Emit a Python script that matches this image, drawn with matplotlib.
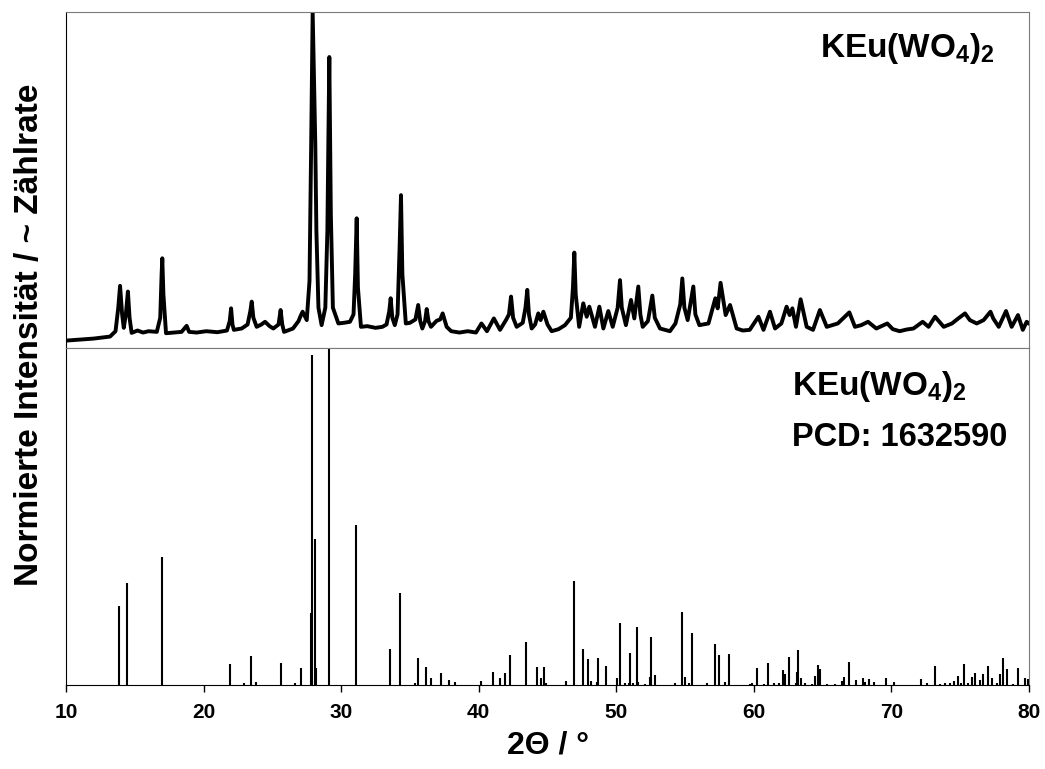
import numpy as np
from matplotlib import pyplot as plt

plt.rcParams['font.family'] = ['Liberation Sans', 'DejaVu Sans']
plt.rcParams['font.weight'] = 'bold'
plt.rcParams['mathtext.fontset'] = 'custom'
plt.rcParams['mathtext.bf'] = 'Liberation Sans:bold'
plt.rcParams['mathtext.rm'] = 'Liberation Sans:bold'
plt.rcParams['mathtext.default'] = 'bf'

meas_2theta = [10.0, 11.0, 12.0, 13.2, 13.6, 13.8, 13.93, 14.08, 14.2, 14.35, 14.5, 14.62, 14.77,
               15.2, 15.6, 16.0, 16.6, 16.85, 16.95, 17.0, 17.08, 17.27, 17.8, 18.4, 18.77, 18.95,
               19.5, 20.2, 21.0, 21.7, 21.9, 22.0, 22.1, 22.2, 22.77, 23.2, 23.4, 23.5, 23.62, 23.86,
               24.2, 24.47, 24.8, 25.07, 25.45, 25.6, 25.72, 25.85, 26.5, 26.9, 27.05, 27.2, 27.5,
               27.7, 27.82, 27.93, 28.03, 28.12, 28.2, 28.35, 28.58, 28.85, 29.0, 29.14, 29.25, 29.4,
               29.8, 30.2, 30.64, 30.9, 31.02, 31.13, 31.22, 31.44, 31.9, 32.5, 33.0, 33.3, 33.5,
               33.6, 33.72, 33.9, 34.1, 34.25, 34.35, 34.45, 34.7, 35.0, 35.4, 35.6, 35.75, 35.9,
               36.1, 36.22, 36.35, 36.53, 36.94, 37.2, 37.38, 37.67, 38.0, 38.6, 39.2, 39.8, 40.2,
               40.6, 41.1, 41.55, 41.98, 42.2, 42.35, 42.5, 42.76, 43.2, 43.4, 43.53, 43.65, 43.85,
               44.1, 44.33, 44.5, 44.7, 45.0, 45.3, 45.8, 46.27, 46.7, 46.85, 46.95, 47.05, 47.3,
               47.6, 47.85, 48.04, 48.45, 48.77, 49.06, 49.42, 49.74, 50.1, 50.27, 50.4, 50.7,
               51.07, 51.31, 51.6, 51.75, 51.92, 52.3, 52.62, 52.8, 53.18, 53.9, 54.3, 54.65, 54.8,
               54.95, 55.19, 55.6, 55.75, 56.04, 56.7, 57.2, 57.37, 57.58, 57.95, 58.27, 58.75,
               59.2, 59.7, 60.33, 60.7, 61.17, 61.54, 62.0, 62.38, 62.6, 62.8, 63.06, 63.4, 63.84,
               64.3, 64.8, 65.3, 66.1, 66.94, 67.35, 67.8, 68.3, 68.9, 69.7, 70.1, 70.6, 71.1, 71.6,
               72.27, 72.7, 73.17, 73.8, 74.4, 74.86, 75.35, 75.7, 76.2, 76.7, 77.2, 77.4, 77.8,
               78.33, 78.74, 79.2, 79.55, 79.83, 80.0]
meas_int = [2.2, 2.5, 2.8, 3.4, 5, 12, 18.5, 10, 6, 10, 16.8, 9, 4.5,
            5.2, 4.6, 5.0, 4.8, 9, 22, 26.7, 16, 4.4, 4.6, 4.8, 6.6, 4.8,
            4.6, 5.0, 4.7, 5.2, 8, 11.8, 7, 5.4, 5.8, 7, 11, 13.8, 9, 6.3,
            7, 7.8, 6.5, 5.8, 7, 11.3, 7, 4.8, 5.8, 8, 9.5, 10.8, 8.3,
            20, 60, 100, 80, 61, 35, 12, 6.8, 12, 35, 86.6, 40, 12,
            7.3, 7.5, 7.8, 10, 22, 38.6, 18, 6.3, 6.5, 6.0, 6.3, 7, 11,
            14.8, 9, 6.8, 10, 30, 45.5, 22, 7.3, 7.5, 8.5, 12.8, 8, 5.8,
            8, 11.6, 8, 6.3, 8.1, 8.5, 10.3, 6.3, 5.0, 4.6, 5.0, 4.6, 7.3,
            5.0, 8.8, 5.4, 8.3, 10, 15.3, 9, 6.3, 7.5, 12, 17.3, 10, 5.8,
            7, 10.3, 8.3, 10.8, 7, 5.0, 5.6, 6.8, 9, 18, 28.4, 16, 6.3,
            13.3, 9.3, 12.3, 6.3, 12.3, 5.8, 11.0, 6.3, 12, 20.2, 12, 6.8,
            14.3, 8.8, 18.3, 10, 6.3, 8, 15.6, 9, 5.8, 5.0, 7.3, 13, 20.7,
            12, 8.3, 18.3, 10, 6.8, 7.3, 14.8, 11.8, 19.4, 9.8, 12.8, 5.8,
            5.2, 5.4, 9.3, 5.4, 10.8, 5.8, 7.3, 12.3, 9.8, 11.8, 6.3, 14.5, 6.3,
            5.4, 11.3, 6.3, 7.3, 10.6, 6.3, 6.8, 7.8, 5.8, 7.3, 5.6, 5.0, 5.5, 5.8,
            7.8, 6.3, 9.3, 6.3, 7.3, 8.8, 10.3, 8.3, 7.3, 8.3, 10.8, 8.8, 6.3,
            11.0, 6.3, 9.8, 5.4, 7.8, 7.3]

# reference reflections PCD 1632590
ref_2theta = [13.85, 14.46, 16.98, 21.94, 22.96, 23.47, 23.81, 25.6, 26.62, 27.08, 27.78, 27.88,
              28.08, 28.17, 29.09, 31.08, 33.58, 34.25, 35.37, 35.56, 36.14, 36.53, 37.23, 37.82,
              38.3, 40.17, 41.04, 41.55, 41.93, 42.3, 43.44, 44.21, 44.5, 44.72, 44.9, 46.32,
              46.93, 47.56, 47.97, 48.14, 48.57, 48.7, 49.28, 50.05, 50.25, 50.63, 50.9, 51.02,
              51.2, 51.48, 51.6, 52.1, 52.43, 52.55, 52.82, 54.3, 54.75, 54.99, 55.3, 55.53,
              56.6, 57.16, 57.49, 57.9, 58.17, 59.72, 59.9, 60.25, 60.76, 61.05, 61.47, 61.8,
              62.14, 62.26, 62.55, 63.03, 63.17, 63.24, 63.4, 63.7, 64.2, 64.42, 64.69, 64.81,
              65.3, 65.9, 66.38, 66.57, 66.89, 67.4, 67.96, 68.1, 68.35, 68.73, 69.58, 70.21,
              72.15, 72.6, 73.17, 73.5, 73.9, 74.26, 74.56, 74.81, 75.06, 75.29, 75.6, 75.83,
              76.05, 76.44, 76.62, 77.05, 77.3, 77.64, 77.9, 78.11, 78.4, 78.87, 79.2, 79.69, 79.93]
ref_int = [23.5, 30.2, 37.9, 6.2, 0.5, 8.6, 1.0, 6.4, 0.7, 4.9, 21.3, 97.9,
           43.2, 5.1, 102.0, 47.5, 10.6, 27.4, 0.5, 7.9, 5.4, 2.2, 3.5, 1.5,
           0.8, 1.2, 3.8, 2.1, 3.7, 8.9, 12.9, 5.2, 2.2, 5.4, 0.5, 1.2,
           30.9, 10.6, 7.7, 1.2, 1.0, 8.1, 5.7, 2.2, 18.5, 0.7, 0.5, 9.6,
           0.5, 17.1, 1.0, 0.3, 2.4, 14.2, 3.1, 0.5, 21.6, 2.3, 0.7, 15.5,
           0.5, 12.1, 8.9, 0.8, 9.2, 0.3, 0.5, 5.0, 0.3, 6.4, 0.5, 0.5,
           4.5, 3.3, 8.2, 0.5, 4.0, 10.4, 2.2, 0.5, 0.3, 2.7, 5.9, 4.7,
           0.2, 0.2, 1.2, 2.3, 6.8, 1.5, 2.0, 1.0, 1.9, 1.0, 2.2, 1.0,
           1.8, 0.5, 5.6, 0.3, 0.7, 0.7, 1.2, 2.7, 0.7, 6.2, 0.7, 2.3,
           3.5, 1.5, 3.2, 5.6, 2.0, 0.5, 3.2, 7.9, 4.7, 0.3, 5.1, 2.2, 1.7]

fig = plt.figure(figsize=(10.45, 7.69), dpi=100)
left, right = 66 / 1045, 1029 / 1045
ax_top = fig.add_axes([left, 1 - 348 / 769, right - left, 336 / 769])
ax_bot = fig.add_axes([left, 1 - 685 / 769, right - left, 337 / 769], sharex=ax_top)

grey = '#7a7a7a'
ax_top.plot(meas_2theta, meas_int, color='black', lw=2.8, solid_joinstyle='round')
ax_top.set_ylim(0, 100)
ax_top.set_xlim(10, 80)
ax_top.tick_params(left=False, labelleft=False, bottom=False, labelbottom=False)
for s in ['top', 'right', 'bottom']:
    ax_top.spines[s].set_color(grey)
ax_top.spines['left'].set_color('black')
ax_top.text(0.965, 0.866, r'KEu(WO$_4$)$_2$', transform=ax_top.transAxes,
            ha='right', va='baseline', fontsize=24, fontweight='bold')

ax_bot.vlines(ref_2theta, 0, ref_int, color='black', lw=1.5)
ax_bot.set_ylim(0, 100)
ax_bot.set_xticks(np.arange(10, 81, 10))
ax_bot.tick_params(axis='x', direction='out', length=5, width=1, labelsize=15, pad=8)
ax_bot.tick_params(left=False, labelleft=False)
for lab in ax_bot.get_xticklabels():
    lab.set_fontweight('bold')
ax_bot.spines['top'].set_color(grey)
ax_bot.spines['right'].set_color(grey)
ax_bot.text(0.754, 0.8605, r'KEu(WO$_4$)$_2$', transform=ax_bot.transAxes,
            ha='left', va='baseline', fontsize=24, fontweight='bold')
ax_bot.text(0.754, 0.709, 'PCD: 1632590', transform=ax_bot.transAxes,
            ha='left', va='baseline', fontsize=23.5, fontweight='bold')

fig.text(548 / 1045, 1 - 746 / 769, '2\u0398 / \u00b0', ha='center', va='center',
         fontsize=23, fontweight='bold')
fig.text(0.028, 1 - 335 / 769, 'Normierte Intensit\u00e4t / ~ Z\u00e4hlrate', rotation=90,
         ha='center', va='center', fontsize=24, fontweight='bold')

fig.savefig('out.png', dpi=100)
